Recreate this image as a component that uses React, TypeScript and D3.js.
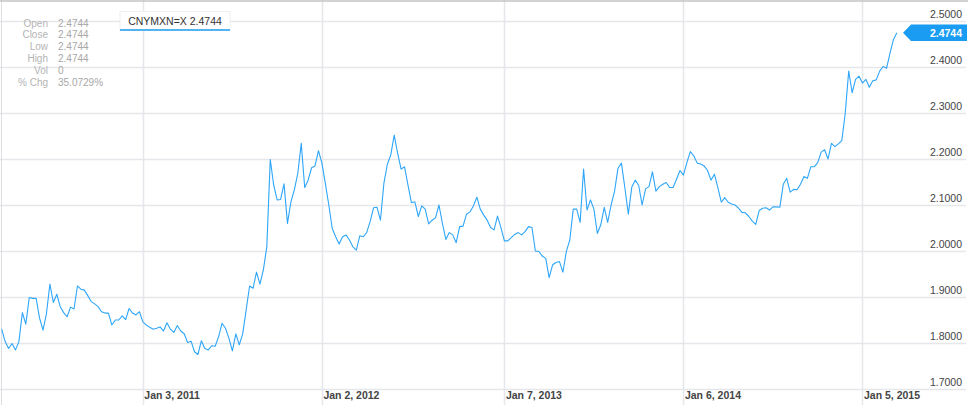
import React from "react";
import * as d3 from "d3";

const W = 968;
const H = 405;

const seriesName = "CNYMXN=X";
const startDate = "2010-03-22";
const closeValues: number[] = [
  1.830, 1.803, 1.788, 1.799, 1.785, 1.803, 1.866, 1.841, 1.899, 1.897,
  1.897, 1.854, 1.828, 1.864, 1.928, 1.888, 1.906, 1.879, 1.866, 1.857,
  1.878, 1.874, 1.924, 1.917, 1.915, 1.903, 1.890, 1.885, 1.879, 1.868,
  1.865, 1.865, 1.839, 1.850, 1.850, 1.859, 1.851, 1.875, 1.865, 1.861,
  1.868, 1.846, 1.839, 1.834, 1.830, 1.832, 1.835, 1.826, 1.844, 1.830,
  1.823, 1.838, 1.826, 1.820, 1.801, 1.804, 1.781, 1.775, 1.805, 1.788,
  1.785, 1.794, 1.793, 1.814, 1.843, 1.832, 1.810, 1.783, 1.820, 1.796,
  1.820, 1.872, 1.924, 1.919, 1.954, 1.928, 1.959, 2.009, 2.199, 2.143,
  2.111, 2.112, 2.146, 2.060, 2.107, 2.133, 2.169, 2.234, 2.138, 2.154,
  2.181, 2.185, 2.218, 2.191, 2.147, 2.100, 2.049, 2.031, 2.015, 2.031,
  2.035, 2.024, 2.009, 2.002, 2.033, 2.031, 2.040, 2.064, 2.094, 2.095,
  2.067, 2.147, 2.188, 2.209, 2.252, 2.212, 2.178, 2.183, 2.143, 2.105,
  2.107, 2.075, 2.098, 2.091, 2.059, 2.067, 2.072, 2.100, 2.060, 2.025,
  2.040, 2.035, 2.018, 2.053, 2.054, 2.080, 2.085, 2.098, 2.117, 2.091,
  2.078, 2.067, 2.051, 2.046, 2.076, 2.051, 2.022, 2.022, 2.029, 2.036,
  2.040, 2.035, 2.042, 2.053, 2.051, 2.000, 1.999, 1.989, 1.984, 1.942,
  1.970, 1.975, 1.977, 1.954, 1.999, 2.024, 2.091, 2.091, 2.062, 2.178,
  2.089, 2.111, 2.091, 2.038, 2.057, 2.095, 2.062, 2.100, 2.130, 2.180,
  2.191, 2.137, 2.080, 2.139, 2.154, 2.143, 2.100, 2.135, 2.140, 2.172,
  2.130, 2.140, 2.145, 2.149, 2.138, 2.138, 2.156, 2.175, 2.165, 2.192,
  2.216, 2.207, 2.191, 2.189, 2.185, 2.175, 2.154, 2.167, 2.138, 2.106,
  2.116, 2.106, 2.102, 2.100, 2.093, 2.084, 2.083, 2.075, 2.065, 2.058,
  2.088, 2.093, 2.094, 2.089, 2.096, 2.096, 2.095, 2.145, 2.158, 2.128,
  2.134, 2.133, 2.145, 2.162, 2.158, 2.183, 2.183, 2.192, 2.215, 2.220,
  2.200, 2.234, 2.227, 2.233, 2.240, 2.300, 2.391, 2.344, 2.373, 2.380,
  2.365, 2.373, 2.356, 2.370, 2.372, 2.391, 2.401, 2.397, 2.430, 2.460,
  2.4744,
];

const yTicks = [1.7, 1.8, 1.9, 2.0, 2.1, 2.2, 2.3, 2.4, 2.5];
const xTickDates = ["2011-01-03", "2012-01-02", "2013-01-07", "2014-01-06", "2015-01-05"];
const xTickLabels = ["Jan 3, 2011", "Jan 2, 2012", "Jan 7, 2013", "Jan 6, 2014", "Jan 5, 2015"];

const infoLabels = ["Open", "Close", "Low", "High", "Vol", "% Chg"];
const infoValues = ["2.4744", "2.4744", "2.4744", "2.4744", "0", "35.0729%"];

const parse = d3.timeParse("%Y-%m-%d");

export default function App() {
  const start = parse(startDate) as Date;
  const data = closeValues.map((v, i) => ({ date: d3.timeDay.offset(start, i * 7), value: v }));
  const last = data[data.length - 1];

  const x = d3.scaleTime().domain([data[0].date, last.date]).range([1.7, 896.9]);
  const y = d3.scaleLinear().domain([1.7, 2.5]).range([389, 21]);

  const line = d3
    .line<{ date: Date; value: number }>()
    .x((d) => x(d.date))
    .y((d) => y(d.value));

  const font = "Arial, 'Liberation Sans', Helvetica, sans-serif";
  const gridColor = "#e6e7ec";
  const ly = y(last.value);

  return (
    <svg
      width={W}
      height={H}
      style={{ position: "absolute", left: 0, top: 0, background: "#fff" }}
      fontFamily={font}
    >
      {/* horizontal gridlines */}
      {yTicks.map((t) => (
        <line key={"h" + t} x1={0} x2={966} y1={Math.round(y(t)) + 0.5} y2={Math.round(y(t)) + 0.5} stroke={gridColor} strokeWidth={1.5} />
      ))}
      {/* vertical gridlines */}
      {xTickDates.map((d) => {
        const xx = Math.round(x(parse(d) as Date)) + 0.5;
        return <line key={"v" + d} x1={xx} x2={xx} y1={0} y2={H} stroke={gridColor} strokeWidth={1.5} />;
      })}
      {/* left and top border */}
      <line x1={1.5} x2={1.5} y1={0} y2={H} stroke="#dcdde2" strokeWidth={1} />
      <line x1={0} x2={W} y1={1} y2={1} stroke="#c4c4c4" strokeWidth={1.5} />

      {/* y labels */}
      {yTicks.map((t) => (
        <text key={"yl" + t} x={962} y={y(t) - 3} textAnchor="end" fontSize={10.5} fill="#444">
          {t.toFixed(4)}
        </text>
      ))}
      {/* x labels */}
      {xTickDates.map((d, i) => (
        <text key={"xl" + d} x={x(parse(d) as Date) + 1.5} y={398.5} fontSize={10.5} fontWeight="bold" fill="#444">
          {xTickLabels[i]}
        </text>
      ))}

      {/* series line */}
      <path d={line(data) || ""} fill="none" stroke="#2ea6f8" strokeWidth={1.1} strokeLinejoin="round" />

      {/* last value tag */}
      <path
        d={`M903,${ly} L911,${ly - 8.3} L967,${ly - 8.3} L967,${ly + 8.3} L911,${ly + 8.3} Z`}
        fill="#1a9cf2"
      />
      <text x={962} y={ly + 3.8} textAnchor="end" fontSize={10.5} fontWeight="bold" fill="#fff">
        {last.value.toFixed(4)}
      </text>

      {/* info panel */}
      {infoLabels.map((l, i) => (
        <g key={"info" + l}>
          <text x={48} y={26.5 + i * 11.8} textAnchor="end" fontSize={10} fill="#b4b4b4">
            {l}
          </text>
          <text x={58} y={26.5 + i * 11.8} fontSize={10} fill="#a8a8a8">
            {infoValues[i]}
          </text>
        </g>
      ))}

      {/* series label box */}
      <rect x={120} y={11.5} width={110} height={18.5} fill="#fff" stroke="#f0f0f0" strokeWidth={1} />
      <line x1={120} x2={230} y1={30} y2={30} stroke="#1a9cf2" strokeWidth={1.5} />
      <text x={175} y={24.5} textAnchor="middle" fontSize={10.5} fill="#333">
        {seriesName} {last.value.toFixed(4)}
      </text>
    </svg>
  );
}
